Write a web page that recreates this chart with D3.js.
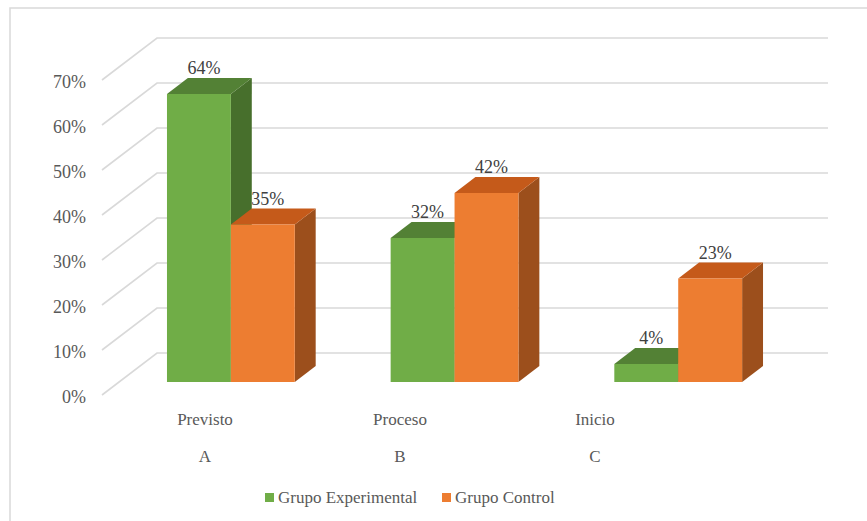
<!DOCTYPE html>
<html>
<head>
<meta charset="utf-8">
<script src="https://cdn.jsdelivr.net/npm/d3@7"></script>
<style>
  html, body { margin: 0; padding: 0; background: #fff; }
  svg { display: block; }
  text { font-family: "Liberation Serif", serif; }
</style>
</head>
<body>
<svg id="chart" width="867" height="521"></svg>
<script>
// Categories, their second-line labels and the two series (percent)
const categories = ["Previsto", "Proceso", "Inicio"];
const categoryLetters = ["A", "B", "C"];
const seriesNames = ["Grupo Experimental", "Grupo Control"];
const experimental = [64, 32, 4];
const control = [35, 42, 23];
const yTicks = [0, 10, 20, 30, 40, 50, 60, 70];

const seriesColors = {
  "Grupo Experimental": { front: "#70ad47", top: "#538135", side: "#476f2c" },
  "Grupo Control":      { front: "#ed7d31", top: "#c55a1a", side: "#9c4f1c" }
};

const svg = d3.select("#chart");
const FONT = "Liberation Serif";

// Oblique 3D projection: floor front-left corner, depth offset to the back wall
const origin = { x: 102, y: 395 };
const depth = { dx: 55, dy: -42 };
const floorWidth = 671;

const x = d3.scaleBand().domain(categories).range([0, floorWidth])
  .paddingInner(0.75 / 1.75).paddingOuter(0.75 / 3.5);
const xs = d3.scaleBand().domain(seriesNames).range([0, x.bandwidth()]);
const y = d3.scaleLinear().domain([0, 70]).range([0, 315]);

// z: 0 = front edge of floor, 1 = back wall
function proj(px, v, z) {
  return [origin.x + px + z * depth.dx, origin.y + z * depth.dy - y(v)];
}
const zFront = 0.31, zBack = 0.69;

// Chart frame
svg.append("rect")
  .attr("x", 10).attr("y", 8).attr("width", 880).attr("height", 540)
  .attr("fill", "none").attr("stroke", "#d9d9d9").attr("stroke-width", 1.5);

// Gridlines: left wall diagonals and back wall horizontals
const grid = svg.append("g").attr("stroke", "#d9d9d9").attr("stroke-width", 1.6).attr("fill", "none");
yTicks.forEach(t => {
  const a = proj(0, t, 0), b = proj(0, t, 1), c = proj(floorWidth, t, 1);
  grid.append("path").attr("d", d3.line()([a, b, c]));
});

// Y-axis tick labels
svg.append("g").selectAll("text").data(yTicks).join("text")
  .attr("x", 86)
  .attr("y", d => proj(0, d, 0)[1] + 8)
  .attr("text-anchor", "end")
  .attr("font-family", FONT)
  .attr("font-size", 18)
  .attr("fill", "#595959")
  .text(d => d + "%");

// Bars, drawn left to right so nearer faces overlap correctly
const bars = [];
categories.forEach((c, i) => {
  bars.push({ cat: c, series: seriesNames[0], value: experimental[i] });
  bars.push({ cat: c, series: seriesNames[1], value: control[i] });
});

const barG = svg.append("g");
bars.forEach(d => {
  const x0 = x(d.cat) + xs(d.series), x1 = x0 + xs.bandwidth();
  const col = seriesColors[d.series];
  const line = d3.line();
  const front = [proj(x0, 0, zFront), proj(x1, 0, zFront), proj(x1, d.value, zFront), proj(x0, d.value, zFront)];
  const top = [proj(x0, d.value, zFront), proj(x1, d.value, zFront), proj(x1, d.value, zBack), proj(x0, d.value, zBack)];
  const side = [proj(x1, 0, zFront), proj(x1, d.value, zFront), proj(x1, d.value, zBack), proj(x1, 0, zBack)];
  barG.append("path").attr("d", line(side) + "Z").attr("fill", col.side);
  barG.append("path").attr("d", line(top) + "Z").attr("fill", col.top);
  barG.append("path").attr("d", line(front) + "Z").attr("fill", col.front);
});

// Value labels above each bar
svg.append("g").selectAll("text").data(bars).join("text")
  .attr("x", d => proj(x(d.cat) + xs(d.series) + xs.bandwidth() / 2, d.value, zFront)[0] + 5)
  .attr("y", d => proj(0, d.value, zBack)[1] - 4)
  .attr("text-anchor", "middle")
  .attr("font-family", FONT)
  .attr("font-size", 18)
  .attr("fill", "#404040")
  .text(d => d.value + "%");

// Category labels (two lines each)
const xLabel = d3.scalePoint().domain(categories).range([205, 595]);
const catG = svg.append("g").attr("fill", "#595959");
categories.forEach((c, i) => {
  catG.append("text").attr("x", xLabel(c)).attr("y", 425)
    .attr("font-family", FONT).attr("font-size", 17).attr("text-anchor", "middle").text(c);
  catG.append("text").attr("x", xLabel(c)).attr("y", 462)
    .attr("font-family", FONT).attr("font-size", 17).attr("text-anchor", "middle").text(categoryLetters[i]);
});

// Legend
const legend = svg.append("g").attr("fill", "#595959");
const legendX = [265, 442];
seriesNames.forEach((s, i) => {
  legend.append("rect").attr("x", legendX[i]).attr("y", 493).attr("width", 9).attr("height", 9)
    .attr("fill", seriesColors[s].front);
  legend.append("text").attr("x", legendX[i] + 13).attr("y", 503)
    .attr("font-family", FONT).attr("font-size", 17).text(s);
});
</script>
</body>
</html>
